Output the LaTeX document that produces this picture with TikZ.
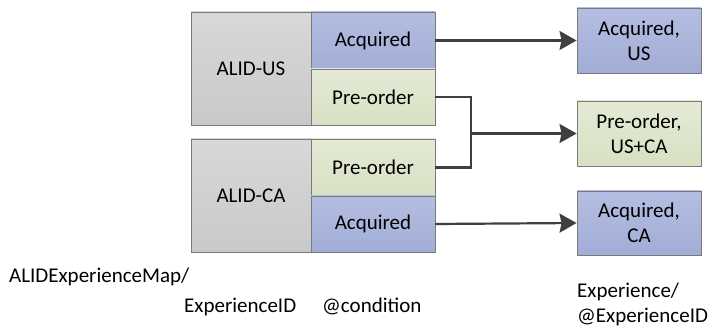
\documentclass[tikz,border=0pt]{standalone}
\usepackage{fontspec}
\setmainfont{Carlito}
\usetikzlibrary{arrows.meta}
\definecolor{bluetop}{HTML}{B4BEE1}
\definecolor{bluebot}{HTML}{A2ADD7}
\definecolor{greentop}{HTML}{E4EAD5}
\definecolor{greenbot}{HTML}{D8E0C3}
\definecolor{graytop}{HTML}{D8D8D8}
\definecolor{graybot}{HTML}{C9C9C9}
\definecolor{edgegray}{HTML}{7A7A7A}
\definecolor{linegray}{HTML}{3F3F3F}
\tikzset{
  box/.style={draw=edgegray, line width=0.9pt, inner sep=0pt, align=center,
    font=\fontsize{21}{25}\selectfont},
  bluebox/.style={box, top color=bluetop, bottom color=bluebot},
  greenbox/.style={box, top color=greentop, bottom color=greenbot},
  graybox/.style={box, top color=graytop, bottom color=graybot},
  conn/.style={draw=linegray, line width=2.2pt},
  arr/.style={conn, -{Stealth[length=17pt,width=19pt,inset=2pt]}},
  lbl/.style={inner sep=0pt, anchor=base west, font=\fontsize{21}{25}\selectfont},
}
\begin{document}
\begin{tikzpicture}[x=1pt,y=-1pt]
\useasboundingbox (0,0) rectangle (711,328);
% left blocks
\node[graybox, minimum width=120pt, minimum height=113pt] (gus) at (251,68.5) {ALID-US};
\node[bluebox, minimum width=124pt, minimum height=57pt] (aus) at (373,40.5) {Acquired};
\node[greenbox, minimum width=124pt, minimum height=56pt] (pus) at (373,97) {Pre-order};
\node[graybox, minimum width=120pt, minimum height=113pt] (gca) at (251,195.5) {ALID-CA};
\node[greenbox, minimum width=124pt, minimum height=57pt] (pca) at (373,167.5) {Pre-order};
\node[bluebox, minimum width=124pt, minimum height=56pt] (aca) at (373,224) {Acquired};
% right blocks
\node[bluebox, minimum width=124pt, minimum height=65pt] (r1) at (639,40.5) {Acquired,\\US};
\node[greenbox, minimum width=124pt, minimum height=65pt] (r2) at (639,133.5) {Pre-order,\\US+CA};
\node[bluebox, minimum width=124pt, minimum height=64pt] (r3) at (639,223) {Acquired,\\CA};
% connectors
\coordinate (j1) at (471,97);
\coordinate (j2) at (471,167.5);
\coordinate (jm) at (471,133.5);
\draw[arr] (aus.east) -- (r1.west);
\draw[conn, line join=miter] (pus.east) -- (j1) -- (j2) -- (pca.east);
\draw[arr] (jm) -- (r2.west);
\draw[arr] (aca.east) -- (r3.west);
% labels
\node[lbl] (l1) at (9,282) {ALIDExperienceMap/};
\node[lbl] (l2) at (184,312) {ExperienceID};
\node[lbl] (l3) at (322,312) {@condition};
\node[lbl] (l4) at (577,297) {Experience/};
\node[lbl] (l5) at (577,322) {@ExperienceID};
\end{tikzpicture}
\end{document}
